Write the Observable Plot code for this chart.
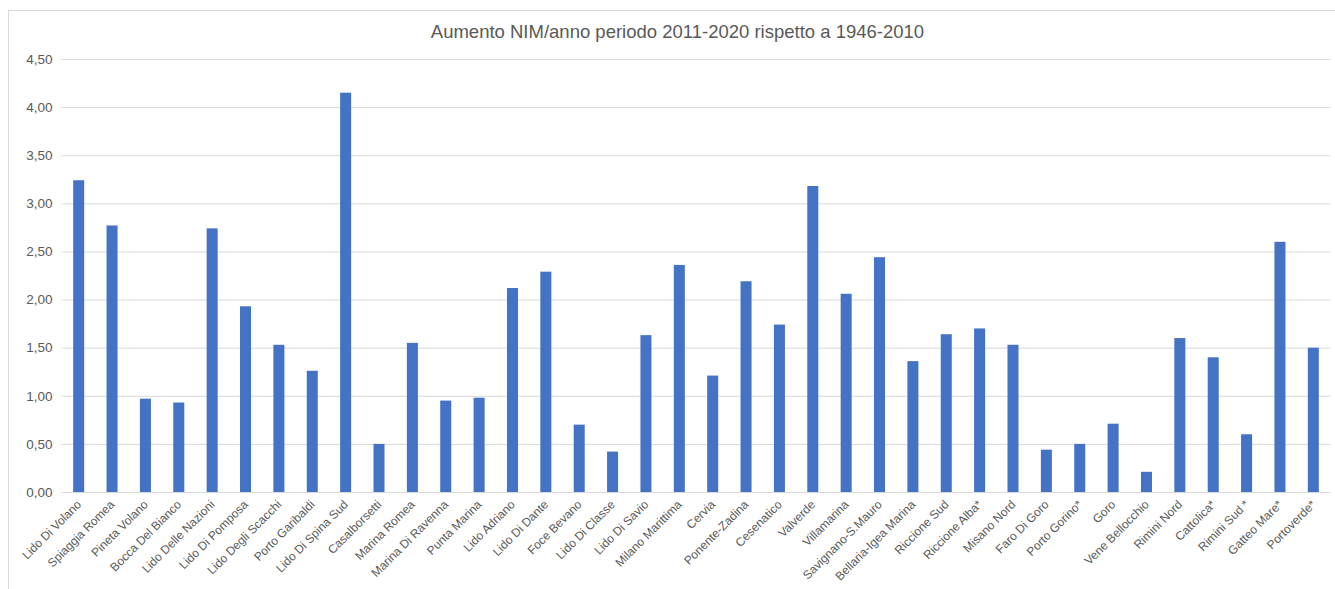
<!DOCTYPE html>
<html lang="it">
<head>
<meta charset="utf-8">
<script src="https://cdn.jsdelivr.net/npm/d3@7"></script>
<script src="https://cdn.jsdelivr.net/npm/@observablehq/plot@0.6"></script>
<style>
  html, body { margin: 0; padding: 0; background: #fff; }
  body { width: 1335px; height: 589px; overflow: hidden; position: relative; font-family: "Liberation Sans", Arial, sans-serif; }
  #frame { position: absolute; left: 8px; top: 10px; width: 1400px; height: 700px; border: 1px solid #d9d9d9; box-sizing: border-box; }
  #title { position: absolute; left: 0; top: 0; width: 1355px; height: 48px; line-height: 64px; text-align: center; font-size: 18.5px; color: #595959; }
  #chart { position: absolute; left: 0; top: 48px; }
</style>
</head>
<body>
<div id="frame"></div>
<div id="title">Aumento NIM/anno periodo 2011-2020 rispetto a 1946-2010</div>
<div id="chart"></div>
<script>
// Località costiere, da nord a sud
const localita = [
  "Lido Di Volano", "Spiaggia Romea", "Pineta Volano", "Bocca Del Bianco",
  "Lido Delle Nazioni", "Lido Di Pomposa", "Lido Degli Scacchi", "Porto Garibaldi",
  "Lido Di Spina Sud", "Casalborsetti", "Marina Romea", "Marina Di Ravenna",
  "Punta Marina", "Lido Adriano", "Lido Di Dante", "Foce Bevano",
  "Lido Di Classe", "Lido Di Savio", "Milano Marittima", "Cervia",
  "Ponente-Zadina", "Cesenatico", "Valverde", "Villamarina",
  "Savignano-S.Mauro", "Bellaria-Igea Marina", "Riccione Sud", "Riccione Alba*",
  "Misano Nord", "Faro Di Goro", "Porto Gorino*", "Goro",
  "Vene Bellocchio", "Rimini Nord", "Cattolica*", "Rimini Sud *",
  "Gatteo Mare*", "Portoverde*"
];

// Aumento NIM/anno (2011-2020 rispetto a 1946-2010)
const aumento = [
  3.24, 2.77, 0.97, 0.93,
  2.74, 1.93, 1.53, 1.26,
  4.15, 0.50, 1.55, 0.95,
  0.98, 2.12, 2.29, 0.70,
  0.42, 1.63, 2.36, 1.21,
  2.19, 1.74, 3.18, 2.06,
  2.44, 1.36, 1.64, 1.70,
  1.53, 0.44, 0.50, 0.71,
  0.21, 1.60, 1.40, 0.60,
  2.60, 1.50
];

// Tacche dell'asse verticale
const yTicks = [0, 0.5, 1, 1.5, 2, 2.5, 3, 3.5, 4, 4.5];
const yTickLabels = ["0,00", "0,50", "1,00", "1,50", "2,00", "2,50", "3,00", "3,50", "4,00", "4,50"];

const dati = localita.map((l, i) => ({localita: l, aumento: aumento[i]}));

const chart = Plot.plot({
  width: 1335,
  height: 541,
  marginTop: 11,
  marginBottom: 97,
  marginLeft: 62,
  marginRight: 5,
  style: {
    fontFamily: "'Liberation Sans', Arial, sans-serif",
    fontSize: "12px",
    color: "#595959",
    background: "transparent",
    overflow: "visible"
  },
  x: {domain: localita, paddingInner: 0.67, paddingOuter: 0.335, round: false, label: null},
  y: {domain: [0, 4.5], label: null},
  marks: [
    Plot.gridY(yTicks, {stroke: "#d9d9d9", strokeOpacity: 1}),
    Plot.barY(dati, {x: "localita", y: "aumento", fill: "#4472C4"}),
    Plot.ruleY([0], {stroke: "#d9d9d9"}),
    Plot.axisY({
      ticks: yTicks,
      tickFormat: (d) => yTickLabels[yTicks.indexOf(d)],
      tickSize: 0,
      tickPadding: 10,
      fontSize: 13.5,
      label: null
    }),
    Plot.axisX({tickRotate: -45, tickSize: 0, tickPadding: 10, label: null})
  ]
});

document.getElementById("chart").appendChild(chart);
</script>
</body>
</html>
